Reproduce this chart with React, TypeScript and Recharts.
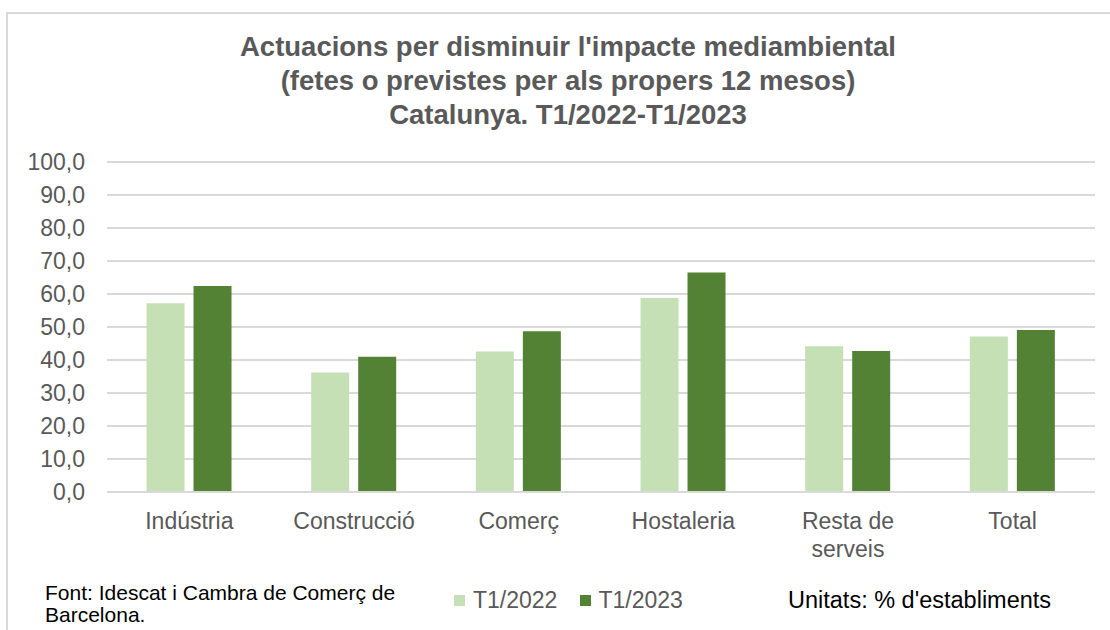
import React from "react";
import { BarChart, Bar, XAxis, YAxis, CartesianGrid } from "recharts";

const categories = ["Indústria", "Construcció", "Comerç", "Hostaleria", "Resta de serveis", "Total"];
const t12022 = [57.2, 36.2, 42.6, 58.8, 44.2, 47.1];
const t12023 = [62.4, 41.0, 48.7, 66.5, 42.7, 49.1];
const yTicks = [0, 10, 20, 30, 40, 50, 60, 70, 80, 90, 100];
const seriesNames = ["T1/2022", "T1/2023"];
const titleLines = [
  "Actuacions per disminuir l'impacte mediambiental",
  "(fetes o previstes per als propers 12 mesos)",
  "Catalunya. T1/2022-T1/2023",
];

const data = categories.map((c, i) => ({ name: c, a: t12022[i], b: t12023[i] }));

const LIGHT = "#C5E0B4";
const DARK = "#548235";
const GRID = "#D9D9D9";
const TXT = "#595959";
const FONT = "'Liberation Sans', Arial, sans-serif";

const wrapWords = (s: string, maxChars: number) => {
  const words = s.split(" ");
  const lines: string[] = [];
  let cur = "";
  words.forEach((w) => {
    const next = cur ? cur + " " + w : w;
    if (next.length > maxChars && cur) {
      lines.push(cur);
      cur = w;
    } else {
      cur = next;
    }
  });
  if (cur) lines.push(cur);
  return lines;
};

const CatTick = (props: any) => {
  const { x, y, payload } = props;
  const lines = wrapWords(String(payload.value), 12);
  return (
    <text x={x} y={y} textAnchor="middle" fill={TXT} fontSize={23} fontFamily={FONT}>
      {lines.map((l, i) => (
        <tspan key={i} x={x} dy={i === 0 ? "0.71em" : 28}>
          {l}
        </tspan>
      ))}
    </text>
  );
};

export default function App() {
  return (
    <div style={{ position: "absolute", left: 0, top: 0, width: 1110, height: 630, overflow: "hidden", background: "#fff", fontFamily: FONT }}>
      <div style={{ position: "absolute", left: 6, top: 12, width: 1200, height: 700, border: "2px solid #D9D9D9", boxSizing: "border-box" }} />
      <div style={{ position: "absolute", left: 0, top: 30, width: 1136, textAlign: "center", color: TXT, fontWeight: "bold", fontSize: 27.5, lineHeight: "34px" }}>
        {titleLines.map((l, i) => (
          <div key={i}>{l}</div>
        ))}
      </div>
      <div style={{ position: "absolute", left: 0, top: 0 }}>
        <BarChart
          width={1110}
          height={630}
          data={data}
          margin={{ top: 162, right: 15, bottom: 78, left: 0 }}
          barCategoryGap="24%"
          barGap={9}
        >
          <CartesianGrid vertical={false} stroke={GRID} strokeWidth={2} />
          <YAxis
            domain={[0, 100]}
            ticks={yTicks}
            width={107}
            axisLine={false}
            tickLine={false}
            tickSize={0}
            tickMargin={22}
            interval={0}
            tickFormatter={(v: number) => v.toFixed(1).replace(".", ",")}
            tick={{ fill: TXT, fontSize: 23, fontFamily: FONT }}
          />
          <XAxis
            dataKey="name"
            height={60}
            interval={0}
            axisLine={{ stroke: GRID, strokeWidth: 2 }}
            tickLine={false}
            tickSize={0}
            tickMargin={21}
            tick={<CatTick />}
          />
          <Bar dataKey="a" name={seriesNames[0]} fill={LIGHT} isAnimationActive={false} />
          <Bar dataKey="b" name={seriesNames[1]} fill={DARK} isAnimationActive={false} />
        </BarChart>
      </div>
      <div style={{ position: "absolute", left: 45, top: 582, color: "#000", fontSize: 21, lineHeight: "22px" }}>
        <div>Font: Idescat i Cambra de Comerç de</div>
        <div>Barcelona.</div>
      </div>
      <div style={{ position: "absolute", left: 454, top: 586, display: "flex", alignItems: "center", color: TXT, fontSize: 23, lineHeight: "28px" }}>
        <span style={{ display: "inline-block", width: 11, height: 11, background: LIGHT, marginRight: 8 }} />
        <span>{seriesNames[0]}</span>
        <span style={{ display: "inline-block", width: 11, height: 11, background: DARK, marginLeft: 23, marginRight: 7 }} />
        <span>{seriesNames[1]}</span>
      </div>
      <div style={{ position: "absolute", left: 788, top: 586, color: "#000", fontSize: 23.5, lineHeight: "28px" }}>
        Unitats: % d'establiments
      </div>
    </div>
  );
}
